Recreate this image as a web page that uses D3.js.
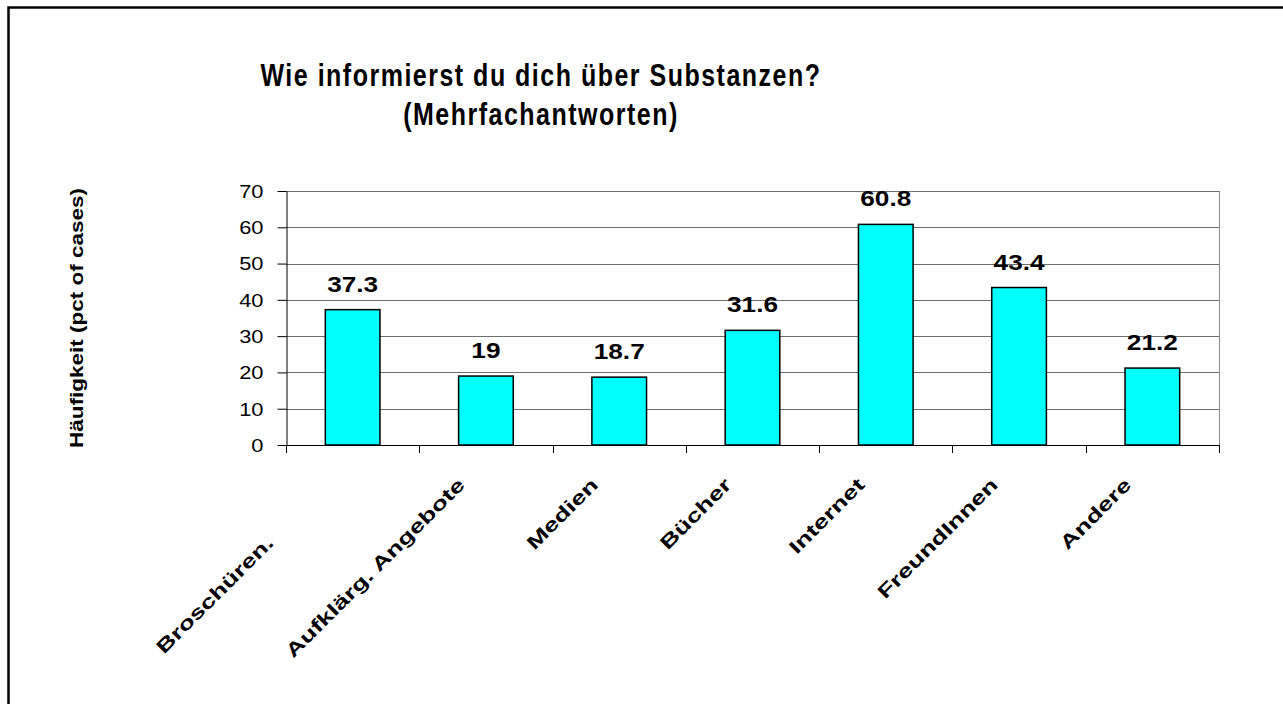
<!DOCTYPE html>
<html>
<head>
<meta charset="utf-8">
<script src="https://cdn.jsdelivr.net/npm/d3@7"></script>
<style>
  body { margin: 0; background: #fff; }
  text { font-family: Arial, "Liberation Sans", sans-serif; fill: #000; }
</style>
</head>
<body>
<div class="chart"></div>
<script>
var categories = ["Broschüren.", "Aufklärg. Angebote", "Medien", "Bücher", "Internet", "FreundInnen", "Andere"];
var values = [37.3, 19, 18.7, 31.6, 60.8, 43.4, 21.2];
var valueLabels = ["37.3", "19", "18.7", "31.6", "60.8", "43.4", "21.2"];
var yTicks = [0, 10, 20, 30, 40, 50, 60, 70];
var titleLines = ["Wie informierst du dich über Substanzen?", "(Mehrfachantworten)"];
var yTitle = "Häufigkeit (pct of cases)";

var width = 1283, height = 704,
    plot = {left: 286, right: 1219, top: 191, bottom: 445};

var svg = d3.select(".chart")
  .append("svg")
    .attr("width", width)
    .attr("height", height);

// outer frame, runs off the right and bottom of the picture
svg.append("rect")
  .attr("x", 8.5).attr("y", 7.5)
  .attr("width", width + 20).attr("height", height + 20)
  .style("fill", "none")
  .style("stroke", "#000")
  .style("stroke-width", 2.5);

var x = d3.scaleBand()
  .domain(categories)
  .range([plot.left, plot.right]);

var y = d3.scaleLinear()
  .domain([0, 70])
  .range([plot.bottom, plot.top]);

// grid lines
svg.append("g")
  .selectAll("line")
  .data(yTicks.filter(function(d) { return d > 0; }))
  .enter().append("line")
    .attr("x1", plot.left).attr("x2", plot.right)
    .attr("y1", function(d) { return Math.round(y(d)) + 0.5; })
    .attr("y2", function(d) { return Math.round(y(d)) + 0.5; })
    .style("stroke", "#6e6e6e")
    .style("stroke-width", 1);

// right border of plot area
svg.append("line")
  .attr("x1", plot.right + 0.5).attr("x2", plot.right + 0.5)
  .attr("y1", y(70)).attr("y2", y(0))
  .style("stroke", "#8a8a8a");

// bars
var barW = x.bandwidth() * 0.41;
svg.append("g")
  .selectAll("rect")
  .data(values)
  .enter().append("rect")
    .attr("x", function(d, i) { return x(categories[i]) + (x.bandwidth() - barW) / 2; })
    .attr("y", function(d) { return y(d); })
    .attr("width", barW)
    .attr("height", function(d) { return y(0) - y(d); })
    .style("fill", "#00ffff")
    .style("stroke", "#000")
    .style("stroke-width", 1.5);

// value labels
svg.append("g")
  .selectAll("text")
  .data(values)
  .enter().append("text")
    .attr("transform", function(d, i) {
      return "translate(" + (x(categories[i]) + x.bandwidth() / 2) + "," + (y(d) - 18) + ") scale(1.22,1)";
    })
    .attr("text-anchor", "middle")
    .style("font-size", "21.5px")
    .style("font-weight", "bold")
    .text(function(d, i) { return valueLabels[i]; });

// y axis
var yAxis = svg.append("g")
  .attr("transform", "translate(" + (plot.left + 0.5) + ",0)")
  .call(d3.axisLeft(y).tickValues(yTicks).tickSize(9).tickSizeOuter(0));
yAxis.select(".domain").style("stroke", "#000");
yAxis.selectAll("line").style("stroke", "#000");
yAxis.selectAll("text")
  .attr("x", -23 / 1.25)
  .attr("dy", "0.36em")
  .attr("transform", "scale(1.25,1)")
  .style("font-size", "17.5px")
  .style("font-family", "Arial, 'Liberation Sans', sans-serif");

// x axis: ticks sit between the categories
var bounds = categories.map(function(c) { return x(c); }).concat([plot.right]);
svg.append("line")
  .attr("x1", plot.left).attr("x2", plot.right)
  .attr("y1", plot.bottom + 0.5).attr("y2", plot.bottom + 0.5)
  .style("stroke", "#000");
svg.append("g")
  .selectAll("line")
  .data(bounds)
  .enter().append("line")
    .attr("x1", function(d) { return Math.round(d) + 0.5; })
    .attr("x2", function(d) { return Math.round(d) + 0.5; })
    .attr("y1", plot.bottom).attr("y2", plot.bottom + 8)
    .style("stroke", "#000");

// rotated category labels
svg.append("g")
  .selectAll("text")
  .data(categories)
  .enter().append("text")
    .attr("transform", function(d, i) {
      var cx = x(d) + x.bandwidth() / 2 - 20;
      return "translate(" + cx + "," + (plot.bottom + 41) + ") rotate(-45) scale(1.4,1)";
    })
    .attr("x", function(d, i) { return i === 0 ? -82 / 1.4 : 0; })
    .attr("text-anchor", "end")
    .style("font-size", "19px")
    .style("font-weight", "bold")
    .text(function(d) { return d; });

// y axis title
svg.append("text")
  .attr("transform", "translate(83," + ((plot.top + plot.bottom) / 2) + ") rotate(-90) scale(1.25,1)")
  .attr("text-anchor", "middle")
  .style("font-size", "18px")
  .style("font-weight", "bold")
  .text(yTitle);

// chart title
svg.append("g")
  .selectAll("text")
  .data(titleLines)
  .enter().append("text")
    .attr("transform", function(d, i) {
      return "translate(541," + (86 + i * 39) + ") scale(1,1.22)";
    })
    .attr("text-anchor", "middle")
    .style("font-size", "25px")
    .style("font-weight", "bold")
    .style("letter-spacing", "1.5px")
    .text(function(d) { return d; });
</script>
</body>
</html>
